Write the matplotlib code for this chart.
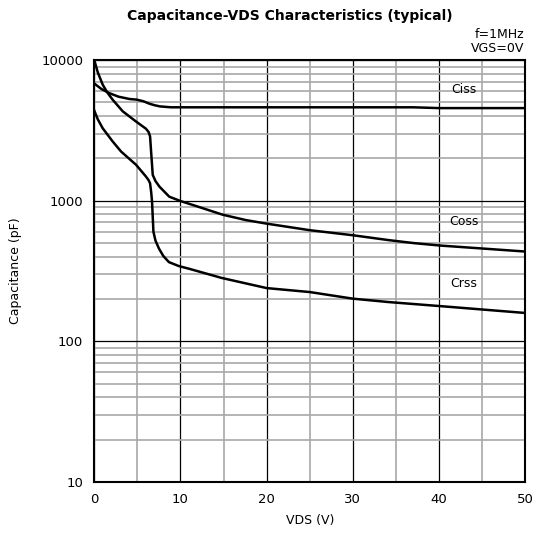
import matplotlib
matplotlib.use("Agg")
import matplotlib.pyplot as plt
from matplotlib.ticker import FixedLocator, NullFormatter, LogLocator

plt.rcParams['font.family'] = ['DejaVu Sans']

vds_ciss = [0, 0.8, 1.7, 2.8, 4.1, 4.9, 5.7, 6.4, 7.0, 7.6, 8.9, 20, 30, 37, 40, 50]
ciss = [6820, 6250, 5840, 5500, 5290, 5240, 5100, 4900, 4780, 4690, 4620, 4620, 4620, 4620, 4560, 4560]

vds_coss = [0, 0.4, 0.97, 1.5, 2.13, 3.29, 4.84, 6.0, 6.3, 6.47, 6.59, 6.78, 7.1, 7.56, 8.7, 10, 11.8,
            14.9, 17.6, 20, 25, 30, 34.2, 37, 40.1, 50]
coss = [10000, 8200, 6700, 5900, 5230, 4330, 3660, 3250, 3080, 2870, 2240, 1527, 1380, 1259, 1068, 995, 917,
        795, 728, 687, 617, 568, 524, 500, 480, 435]

vds_crss = [0, 0.4, 0.97, 2.13, 3.1, 4.85, 6.0, 6.3, 6.47, 6.6, 6.7, 6.86, 7.1, 7.5, 8.0, 8.65, 9.8, 11,
            14.8, 20, 25, 30, 34.2, 40.1, 50]
crss = [4370, 3800, 3280, 2640, 2240, 1800, 1484, 1400, 1330, 1150, 984, 601, 520, 457, 405, 366, 343, 328,
        282, 239, 224, 201, 190, 178, 159]

labels = ["Ciss", "Coss", "Crss"]
label_x = [42.9, 42.9, 42.9]
label_y = [6230, 706, 256]

x_ticks = [0, 10, 20, 30, 40, 50]
y_ticks = [10, 100, 1000, 10000]
y_ticklabels = ["10", "100", "1000", "10000"]

fig = plt.figure(figsize=(5.42, 5.42), dpi=100)
ax = fig.add_axes([0.174, 0.111, 0.795, 0.778])

ax.set_yscale('log')
ax.set_xlim(0, 50)
ax.set_ylim(10, 10000)

ax.xaxis.set_major_locator(FixedLocator(x_ticks))
ax.xaxis.set_minor_locator(FixedLocator([5, 15, 25, 35, 45]))
ax.yaxis.set_major_locator(FixedLocator(y_ticks))
ax.yaxis.set_minor_locator(LogLocator(base=10, subs=range(2, 10)))
ax.yaxis.set_minor_formatter(NullFormatter())
ax.set_yticklabels(y_ticklabels)

ax.grid(which='minor', color='#a8a8a8', linewidth=1.2, zorder=0)
ax.grid(which='major', color='black', linewidth=0.9, zorder=1)
ax.tick_params(which='both', length=0, labelsize=9.5, pad=8)
for s in ax.spines.values():
    s.set_linewidth(1.5)

for xs, ys in [(vds_ciss, ciss), (vds_coss, coss), (vds_crss, crss)]:
    ax.plot(xs, ys, color='black', linewidth=1.8, zorder=3)

for t, lx, ly in zip(labels, label_x, label_y):
    ax.text(lx, ly, t, ha='center', va='center', fontsize=9, zorder=4)

ax.set_xlabel("VDS (V)", fontsize=9, labelpad=6)
ax.set_ylabel("Capacitance (pF)", fontsize=9, labelpad=14)

fig.text(290 / 542, 1 - 16 / 542, "Capacitance-VDS Characteristics (typical)",
         ha='center', va='center', fontsize=10, fontweight='bold')
fig.text(524 / 542, 1 - 35 / 542, "f=1MHz", ha='right', va='center', fontsize=9)
fig.text(524 / 542, 1 - 49 / 542, "VGS=0V", ha='right', va='center', fontsize=9)

fig.savefig("out.png", dpi=100)
